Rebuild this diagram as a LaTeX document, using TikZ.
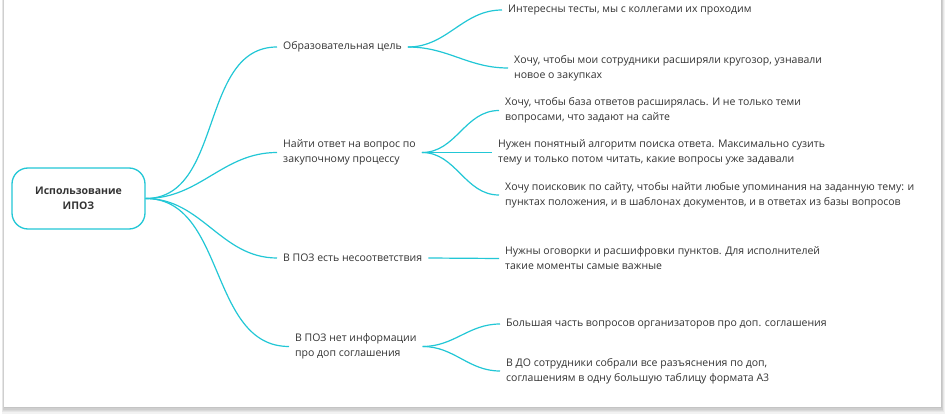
\documentclass[tikz,border=0pt]{standalone}
\usepackage{fontspec}
\setmainfont{Open Sans}
\usepackage{xcolor}
\definecolor{mapline}{HTML}{22C7D6}
\definecolor{maptext}{HTML}{333333}

\begin{document}
\begin{tikzpicture}[x=1pt, y=-1pt,
    topic/.style={anchor=west, inner xsep=6pt, inner ysep=0pt, align=left,
        font=\fontsize{10.5}{15}\selectfont, text=maptext},
    link/.style={draw=mapline, line width=1.2pt},
    ]
    \useasboundingbox (0,0) rectangle (946,417);
    % card with its shadow
    \foreach \s in {1,...,5}
        \fill[black, opacity=0.05] (4-0.5*\s,-10) rectangle (941+0.8*\s,407+1.3*\s);
    \fill[white] (4,-10) rectangle (941,407);

    \node (root) at (78.5,198.5) [draw=mapline, line width=1.3pt, rounded corners=16pt,
        minimum width=133pt, minimum height=61pt, align=center,
        font=\bfseries\fontsize{10.5}{15}\selectfont, text=maptext] {Использование\\ИПОЗ};

    \node (goal) at (277,47) [topic] {Образовательная цель};
    \node (search) at (277,152.5) [topic] {Найти ответ на вопрос по\\закупочному процессу};
    \node (mismatch) at (277,258) [topic] {В ПОЗ есть несоответствия};
    \node (noinfo) at (289,346.5) [topic] {В ПОЗ нет информации\\про доп соглашения};

    \node (tests) at (502,10) [topic] {Интересны тесты, мы с коллегами их проходим};
    \node (outlook) at (508,68) [topic] {Хочу, чтобы мои сотрудники расширяли кругозор, узнавали\\новое о закупках};
    \node (base) at (499,110.5) [topic] {Хочу, чтобы база ответов расширялась. И не только теми\\вопросами, что задают на сайте};
    \node (algo) at (492,152.5) [topic] {Нужен понятный алгоритм поиска ответа. Максимально сузить\\тему и только потом читать, какие вопросы уже задавали};
    \node (engine) at (499,195) [topic] {Хочу поисковик по сайту, чтобы найти любые упоминания на заданную тему: и\\пунктах положения, и в шаблонах документов, и в ответах из базы вопросов};
    \node (notes) at (499,258.5) [topic] {Нужны оговорки и расшифровки пунктов. Для исполнителей\\такие моменты самые важные};
    \node (majority) at (500,324) [topic] {Большая часть вопросов организаторов про доп. соглашения};
    \node (table) at (500,371) [topic] {В ДО сотрудники собрали все разъяснения по доп,\\соглашениям в одну большую таблицу формата А3};

    \draw[link] (root.east) to[out=0, in=180] (goal.west);
    \draw[link] (root.east) to[out=0, in=180] (search.west);
    \draw[link] (root.east) to[out=0, in=180] (mismatch.west);
    \draw[link] (root.east) to[out=0, in=180] (noinfo.west);

    \draw[link] (goal.east) to[out=0, in=180] (tests.west);
    \draw[link] (goal.east) to[out=0, in=180] (outlook.west);
    \draw[link] (search.east) to[out=0, in=180] (base.west);
    \draw[link] (search.east) -- (algo.west);
    \draw[link] (search.east) to[out=0, in=180] (engine.west);
    \draw[link] (mismatch.east) -- (notes.west);
    \draw[link] (noinfo.east) to[out=0, in=180] (majority.west);
    \draw[link] (noinfo.east) to[out=0, in=180] (table.west);
\end{tikzpicture}
\end{document}
